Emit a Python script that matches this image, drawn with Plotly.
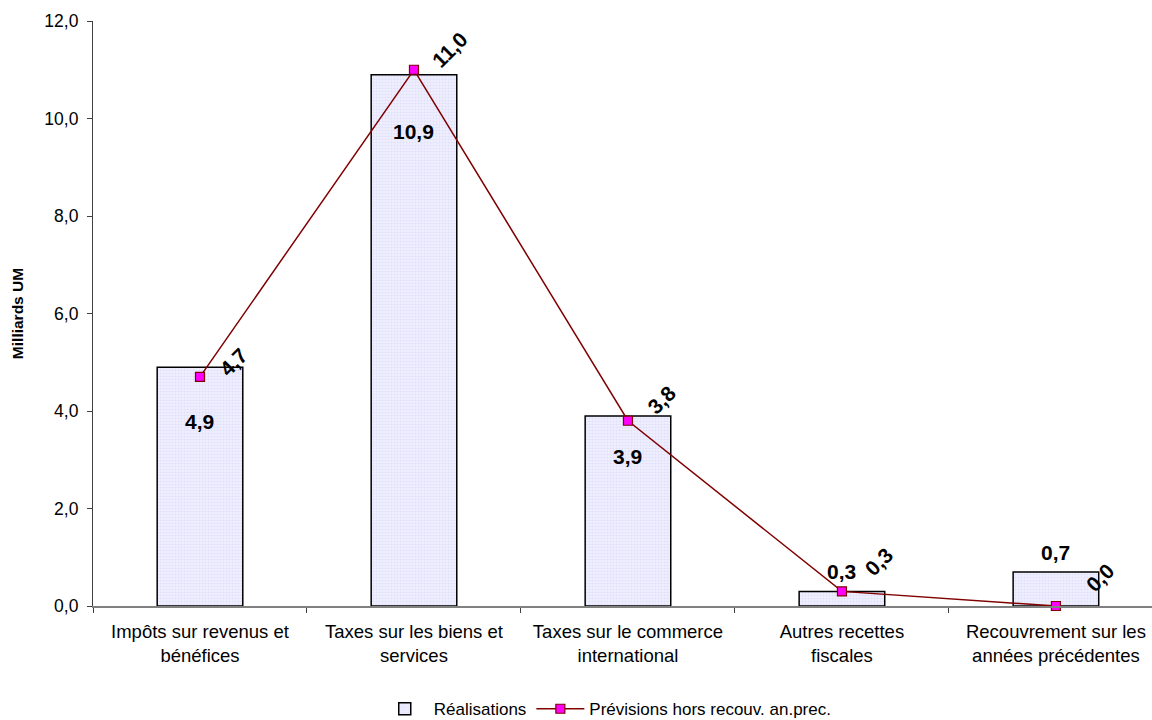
import plotly.graph_objects as go

# Categories of fiscal revenue (two-line axis labels)
categories = [
    "Impôts sur revenus et<br>bénéfices",
    "Taxes sur les biens et<br>services",
    "Taxes sur le commerce<br>international",
    "Autres recettes<br>fiscales",
    "Recouvrement sur les<br>années précédentes",
]
realisations = [4.9, 10.9, 3.9, 0.3, 0.7]
previsions = [4.7, 11.0, 3.8, 0.3, 0.0]
y_ticks = [0, 2, 4, 6, 8, 10, 12]

# label offsets (pixels) for the value labels
bar_label_shift = [-54, -57, -41, 20, 19]
line_label_dx = [34, 36, 34, 37, 44]
line_label_dy = [15, 20, 21, 30, 29]

FONT = "Liberation Sans, Arial, sans-serif"


def fr(v):
    return f"{v:.1f}".replace(".", ",")


fig = go.Figure()

fig.add_trace(go.Bar(
    x=categories,
    y=realisations,
    name="Réalisations",
    width=0.40,
    marker=dict(
        color="#E6E6FA",
        line=dict(color="#000000", width=1.5),
        pattern=dict(shape=".", fgcolor="#D2D2F2", bgcolor="#EEEEFF", size=3, solidity=0.35),
    ),
))

fig.add_trace(go.Scatter(
    x=categories,
    y=previsions,
    name="Prévisions hors recouv. an.prec.",
    mode="lines+markers",
    line=dict(color="#800000", width=1.5),
    marker=dict(symbol="square", size=9, color="#FF00FF", line=dict(color="#800000", width=1.2)),
    cliponaxis=False,
))

annotations = []
for i, (c, v) in enumerate(zip(categories, realisations)):
    annotations.append(dict(
        x=c, y=v, xref="x", yref="y", text=fr(v), showarrow=False,
        yshift=bar_label_shift[i], xanchor="center", yanchor="middle",
        font=dict(family=FONT, size=21, color="#000000", weight="bold"),
    ))
for i, (c, v) in enumerate(zip(categories, previsions)):
    annotations.append(dict(
        x=c, y=v, xref="x", yref="y", text=fr(v), showarrow=False,
        xshift=line_label_dx[i], yshift=line_label_dy[i], textangle=-45,
        xanchor="center", yanchor="middle",
        font=dict(family=FONT, size=21, color="#000000", weight="bold"),
    ))

fig.update_layout(
    width=1152,
    height=720,
    margin=dict(l=93, r=0, t=21, b=114, autoexpand=False),
    paper_bgcolor="#FFFFFF",
    plot_bgcolor="#FFFFFF",
    separators=", ",
    font=dict(family=FONT, size=17, color="#000000"),
    showlegend=True,
    legend=dict(
        orientation="h", x=0.267, xanchor="left",
        yref="container", y=0.015, yanchor="middle",
        font=dict(family=FONT, size=17, color="#000000"),
        itemwidth=48, tracegroupgap=0,
    ),
    annotations=annotations,
    bargap=0.6,
)

fig.update_xaxes(
    type="category",
    range=[-0.5, 4.449],
    showline=True, linecolor="#808080", linewidth=1.5,
    ticks="outside", tickson="boundaries", ticklen=5, tickcolor="#404040",
    showgrid=False, zeroline=False, automargin=False,
    ticklabelstandoff=8,
    tickfont=dict(family=FONT, size=18.5, color="#000000"),
)

fig.update_yaxes(
    range=[0, 12],
    tickvals=y_ticks,
    tickformat=".1f",
    showline=True, linecolor="#404040", linewidth=1.2,
    ticks="outside", ticklen=5, tickcolor="#404040",
    showgrid=False, zeroline=False, automargin=False,
    ticklabelstandoff=5,
    tickfont=dict(family=FONT, size=17.5, color="#000000"),
    title=dict(text="<b>Milliards UM</b>", font=dict(family=FONT, size=15.5, color="#000000"), standoff=16),
)

fig.write_html("out.html")
